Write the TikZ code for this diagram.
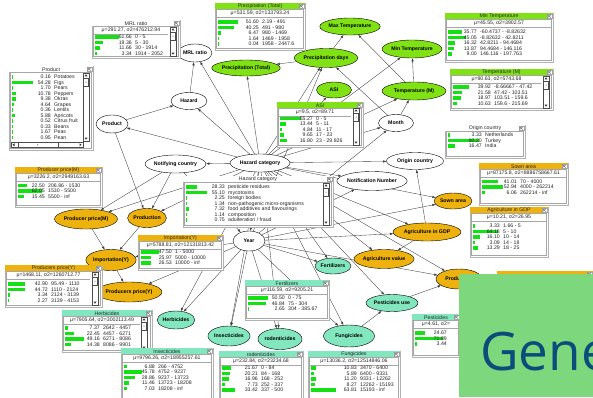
\documentclass[tikz,border=0pt]{standalone}
\usepackage{fontspec}
\setmainfont{Liberation Sans}
\newfontfamily\slidefont{Open Sans}
\usetikzlibrary{shapes.geometric,arrows.meta}

\pgfdeclarelayer{edges}
\pgfdeclarelayer{tables}
\pgfdeclarelayer{slide}
\pgfsetlayers{edges,main,tables,slide}

\definecolor{limeN}{RGB}{128,226,20}
\definecolor{orangeN}{RGB}{238,178,14}
\definecolor{mintN}{RGB}{130,230,190}
\definecolor{barG}{RGB}{20,225,20}
\definecolor{edgeC}{RGB}{60,60,60}
\definecolor{slideG}{RGB}{125,216,125}
\definecolor{slideT}{RGB}{12,76,122}

\tikzset{
  netnode/.style={ellipse, draw=black, line width=0.4pt, inner sep=0pt, fill=white,
    font=\fontsize{5.2}{6}\selectfont\bfseries},
  wnode/.style={netnode},
  gnode/.style={netnode, fill=limeN},
  onode/.style={netnode, fill=orangeN},
  mnode/.style={netnode, fill=mintN},
  link/.style={draw=edgeC, line width=0.35pt, -{Latex[length=3.2pt,width=2.4pt]}},
  tabframe/.style={rectangle, draw=gray!60, fill=white, line width=0.4pt, inner sep=0pt, outer sep=0pt},
  tabtxt/.style={font=\fontsize{5.2}{6}\selectfont, inner sep=0pt, text=black!85},
  innerbox/.style={draw=gray!70, line width=0.35pt},
  sepline/.style={draw=gray!70, line width=0.3pt},
  scrollbar/.style={draw=black!70, line width=0.35pt, fill=white},
}

% monitor window: name, x, y, width, height, header colour, title
\newcommand\bntab[7]{%
  \node[tabframe, minimum width=#4pt, minimum height=#5pt, anchor=north west] (#1) at (#2,#3) {};
  \fill[#6] (#2+0.3,#3+0.3) rectangle (#2+#4-0.3,#3+6);
  \node[tabtxt] (#1-t) at (#2+#4/2,#3+3.3) {#7};
  \draw[gray!70, fill=white, line width=0.3pt] (#2+#4-6.3,#3+0.8) rectangle (#2+#4-1.2,#3+5.5);
  \draw[black!70, line width=0.35pt] (#2+#4-5.4,#3+1.7) -- (#2+#4-2.1,#3+4.6)
    (#2+#4-5.4,#3+4.6) -- (#2+#4-2.1,#3+1.7);
  \draw[innerbox] (#2+1.6,#3+6.6) rectangle (#2+#4-1.6,#3+#5-1.6);
}
% mean / variance line: name, x, y, width of text area, text
\newcommand\bnstat[5]{%
  \node[tabtxt] (#1-s) at (#2+#4/2,#3+10.4) {#5};
  \draw[sepline] (#2+2,#3+13.8) -- (#2+#4-2,#3+13.8);
}
% state rows: name, x, first row centre, number column, list value/label
\newcommand\bnrows[5]{%
  \foreach \rv/\rl [count=\ri] in {#5} {
    \fill[barG] (#2+2.6,#3+\ri*5.5-7.4) rectangle ++(0.8+\rv*0.38,3.8);
    \node[tabtxt, anchor=base east] (#1-v\ri) at (#2+#4,#3+\ri*5.5-3.8) {\rv};
    \node[tabtxt, anchor=base west] (#1-l\ri) at (#2+#4+3,#3+\ri*5.5-3.8) {\rl};
  }
}
% vertical scroll bar: x, top, bottom
\newcommand\bnscroll[3]{%
  \draw[scrollbar] (#1,#2) rectangle (#1+6,#3);
  \fill[black!80] (#1+3,#2+1.3) -- (#1+1.5,#2+3.3) -- (#1+4.5,#2+3.3) -- cycle;
  \fill[black!80] (#1+3,#3-1.3) -- (#1+1.5,#3-3.3) -- (#1+4.5,#3-3.3) -- cycle;
  \draw[scrollbar] (#1+0.6,#2+5) rectangle (#1+5.4,#2+13);
  \fill[black!80] (#1+3,#2+9) circle (0.5pt);
}

\begin{document}
\begin{tikzpicture}[x=1pt,y=-1pt]
\useasboundingbox (0,0) rectangle (593,397);
\clip (0,0) rectangle (593,397);
\begin{pgfonlayer}{edges}
  \fill[white] (0,0) rectangle (593,397);
\end{pgfonlayer}

% ---------- network nodes ----------
\node[wnode, minimum width=32pt, minimum height=18pt] (mrl) at (195,53) {MRL ratio};
\node[wnode, minimum width=36pt, minimum height=17pt] (hazard) at (189,101) {Hazard};
\node[wnode, minimum width=32pt, minimum height=18pt] (product) at (112,124) {Product};
\node[wnode, minimum width=50pt, minimum height=18pt] (notifying) at (175.5,164) {Notifying country};
\node[wnode, minimum width=60pt, minimum height=18pt] (hazcat) at (260,163) {Hazard category};
\node[wnode, minimum width=57pt, minimum height=17pt] (origin) at (415,161) {Origin country};
\node[wnode, minimum width=58pt, minimum height=19pt] (notifnum) at (372,181) {Notification Number};
\node[wnode, minimum width=35pt, minimum height=17pt] (month) at (396,123) {Month};
\node[wnode, minimum width=32pt, minimum height=20pt] (year) at (249,241) {Year};

\node[gnode, minimum width=50pt, minimum height=17pt] (maxtemp) at (350,26.5) {Max Temperature};
\node[gnode, minimum width=60pt, minimum height=18pt] (mintemp) at (412,49) {Min Temperature};
\node[gnode, minimum width=50pt, minimum height=19pt] (precipdays) at (326,58) {Precipitation days};
\node[gnode, minimum width=47pt, minimum height=16pt] (preciptot) at (246,68) {Precipitation (Total)};
\node[gnode, minimum width=35pt, minimum height=16pt] (asi) at (334,90) {ASI};
\node[gnode, minimum width=64pt, minimum height=18pt] (tempm) at (414,91) {Temperature (M)};

\node[onode, minimum width=58pt, minimum height=20pt] (ppm) at (86,219) {Producer price(M)};
\node[onode, minimum width=37pt, minimum height=19pt] (production) at (147,218) {Production};
\node[onode, minimum width=50pt, minimum height=21pt] (importY) at (111,260) {Importation(Y)};
\node[onode, minimum width=55pt, minimum height=20pt] (ppy) at (129,292) {Producers price(Y)};
\node[onode, minimum width=38pt, minimum height=16pt] (sown) at (453,201) {Sown area};
\node[onode, minimum width=68pt, minimum height=18pt] (agrigdp) at (427,232) {Agriculture in GDP};
\node[onode, minimum width=52pt, minimum height=19pt] (agrival) at (384,259) {Agriculture value};
\node[onode, minimum width=46pt, minimum height=20pt] (production2) at (459,279) {Production};

\node[mnode, minimum width=36pt, minimum height=16pt] (fert) at (333,266) {Fertilizers};
\node[mnode, minimum width=52pt, minimum height=17pt] (pestuse) at (392,303) {Pesticides use};
\node[mnode, minimum width=51pt, minimum height=22pt] (fung) at (349,336) {Fungicides};
\node[mnode, minimum width=44pt, minimum height=21pt] (rodent) at (280,339) {rodenticides};
\node[mnode, minimum width=36pt, minimum height=20pt] (insect) at (229,336) {Insecticides};
\node[mnode, minimum width=30pt, minimum height=18pt] (herb) at (176,320) {Herbicides};

% ---------- dependencies ----------
\begin{pgfonlayer}{edges}
\foreach \a/\b in {product/hazard, hazard/mrl, hazcat/hazard, hazcat/mrl, hazcat/product,
  hazcat/notifying, hazcat/origin, hazcat/notifnum, hazcat/preciptot, hazcat/precipdays,
  year/precipdays, precipdays/preciptot, precipdays/maxtemp, month/precipdays,
  tempm/mintemp, tempm/maxtemp, hazcat/month, year/month, month/tempm, hazcat/tempm,
  hazcat/mintemp, hazcat/asi, product/production, notifying/production, hazcat/production,
  hazcat/ppm, notifying/ppm, production/importY, ppm/importY, importY/ppy, year/ppy,
  year/herb, hazcat/herb, year/insect, hazcat/insect, year/rodent, hazcat/rodent,
  year/fung, hazcat/fung, year/fert, hazcat/fert, fung/pestuse, hazcat/pestuse,
  pestuse/production2, hazcat/production2, year/production2, hazcat/sown, year/sown,
  year/agrigdp, hazcat/agrigdp, agrigdp/origin, agrigdp/agrival, hazcat/agrival,
  year/notifnum, hazcat/year, notifying/year, year/importY}
  \draw[link] (\a) -- (\b);
\end{pgfonlayer}

% ---------- monitor windows ----------
\begin{pgfonlayer}{tables}
% MRL ratio
\bntab{tMRL}{92}{20}{88}{38}{white}{MRL ratio}
\bnstat{tMRL}{92}{20}{78}{μ=291.27, σ2=476212.94}
\bnrows{tMRL}{92}{37}{40}{61.66/0 - 5, 19.36/5 - 30, 11.66/30 - 1914, 3.34/1914 - 2052}
\bnscroll{170}{27}{56}

% Product
\bntab{tProd}{9}{66}{84}{84}{white}{Product}
\begin{scope}
  \clip (10,73) rectangle (83,141);
  \bnrows{tProd}{9}{77}{42}{0.16/Potatoes, 54.28/Figs, 1.70/Pears, 10.78/Peppers, 9.38/Okras,
    4.64/Grapes, 0.36/Lentils, 5.88/Apricots, 0.52/Citrus fruit, 0.33/Beans, 1.67/Peas, 0.95/Pean}
\end{scope}
\bnscroll{83}{73}{141}
\draw[scrollbar] (11,142) rectangle (83,147.5);
\draw[scrollbar] (18,142.6) rectangle (58,147);
\fill[black!80] (37.5,144.8) circle (0.5pt);
\fill[black!80] (12.5,144.8) -- (14.5,143.3) -- (14.5,146.3) -- cycle;
\fill[black!80] (81.5,144.8) -- (79.5,143.3) -- (79.5,146.3) -- cycle;

% Precipitation (Total)
\bntab{tPT}{215}{3}{90}{47}{limeN}{Precipitation (Total)}
\bnstat{tPT}{215}{3}{90}{μ=531.59, σ2=133793.24}
\bnrows{tPT}{215}{22}{44}{51.60/2.19 - 491, 40.25/491 - 980, 6.47/980 - 1469, 1.64/1469 - 1958, 0.04/1958 - 2447.6}

% ASI
\bntab{tASI}{277}{102}{86}{45}{limeN}{ASI}
\bnstat{tASI}{277}{102}{76}{μ=9.5, σ2=89.71}
\bnrows{tASI}{277}{118.5}{36}{55.27/0 - 5, 13.44/5 - 11, 4.84/11 - 17, 9.65/17 - 23, 16.80/23 - 29.826}
\bnscroll{353}{108}{145}

% Min Temperature
\bntab{tMin}{445}{13}{108}{49}{limeN}{Min Temperature}
\bnstat{tMin}{445}{13}{108}{μ=45.55, σ2=3902.57}
\bnrows{tMin}{445}{32}{32}{35.77/-60.4737 - -8.82632, 45.05/-8.82632 - 42.8211, 16.32/42.8211 - 94.4684,
  13.87/94.4684 - 146.116, 9.00/146.116 - 197.763}

% Temperature (M)
\bntab{tTM}{450}{69}{103}{41}{limeN}{Temperature (M)}
\bnstat{tTM}{450}{69}{93}{μ=90.63, σ2=5743.68}
\bnrows{tTM}{450}{87}{41}{39.92/-8.66667 - 47.42, 21.58/47.42 - 103.51, 18.97/103.51 - 159.6, 10.63/159.6 - 215.69}
\bnscroll{543}{76}{108}

% Origin country
\bntab{tOrig}{445}{125}{80}{33}{white}{Origin country}
\bnrows{tOrig}{445}{135}{37}{3.33/Netherlands, 80.20/Turkey, 16.47/India}

% Sown area
\bntab{tSown}{479}{163}{89}{42}{orangeN}{Sown area}
\bnstat{tSown}{479}{163}{89}{μ=87175.8, σ2=8886758667.61}
\bnrows{tSown}{479}{181.5}{38}{41.01/70 - 4000, 52.94/4000 - 262214, 6.06/262214 - inf}

% Agriculture in GDP
\bntab{tGDP}{470}{207}{78}{50}{orangeN}{Agriculture in GDP}
\bnstat{tGDP}{470}{207}{78}{μ=10.21, σ2=26.95}
\bnrows{tGDP}{470}{226}{30}{3.33/1.66 - 5, 64.18/5 - 10, 16.10/10 - 14, 3.09/14 - 18, 13.29/18 - 25}

% Hazard category
\bntab{tHaz}{183}{176}{150}{51}{white}{Hazard category}
\bnrows{tHaz}{183}{187}{42}{28.33/pesticide residues, 55.10/mycotoxins, 2.25/foreign bodies,
  1.34/non-pathogenic micro-organisms, 7.32/food additives and flavourings, 1.14/composition,
  0.75/{adulteration / fraud}}
\bnscroll{323}{183}{225}

% Producer price(M)
\bntab{tPPM}{15}{167}{87}{40}{orangeN}{Producer price(M)}
\bnstat{tPPM}{15}{167}{87}{μ=3226.2, σ2=2949163.63}
\bnrows{tPPM}{15}{185.5}{30}{22.50/206.86 - 1530, 62.05/1530 - 5500, 15.45/5500 - inf}

% Importation(Y)
\bntab{tImp}{138}{235}{85}{35}{orangeN}{Importation(Y)}
\bnstat{tImp}{138}{235}{85}{μ=5788.81, σ2=12131813.42}
\bnrows{tImp}{138}{252}{34}{47.50/1 - 5000, 25.97/5000 - 10000, 26.53/10000 - inf}

% Producers price(Y)
\bntab{tPPY}{5}{265}{97}{42}{orangeN}{Producers price(Y)}
\bnstat{tPPY}{5}{265}{87}{μ=1468.11, σ2=1260712.77}
\bnrows{tPPY}{5}{284}{43}{42.90/95.49 - 1110, 44.72/1110 - 2124, 3.34/2124 - 3139, 2.27/3139 - 4153}
\bnscroll{92}{272}{305}

% Herbicides
\bntab{tHerb}{62}{310}{90}{42}{mintN}{Herbicides}
\bnstat{tHerb}{62}{310}{80}{μ=7905.64, σ2=3002113.49}
\bnrows{tHerb}{62}{328}{38}{7.37/2642 - 4457, 22.45/4457 - 6271, 49.16/6271 - 8086, 14.38/8086 - 9901}
\bnscroll{141}{317}{350}

% Insecticides
\bntab{tIns}{121}{348}{92}{52}{mintN}{Insecticides}
\bnstat{tIns}{121}{348}{92}{μ=9796.26, σ2=18955257.61}
\bnrows{tIns}{121}{366.5}{34}{6.88/266 - 4752, 45.78/4752 - 9237, 28.86/9237 - 13723, 11.46/13723 - 18208, 7.03/18208 - inf}

% Fertilizers
\bntab{tFert}{245}{280}{84}{40}{mintN}{Fertilizers}
\bnstat{tFert}{245}{280}{84}{μ=116.59, σ2=9205.21}
\bnrows{tFert}{245}{298}{40}{50.50/0 - 75, 46.84/75 - 304, 2.65/304 - 385.67}

% rodenticides
\bntab{tRod}{219}{351}{84}{50}{mintN}{rodenticides}
\bnstat{tRod}{219}{351}{84}{μ=232.84, σ2=23234.68}
\bnrows{tRod}{219}{368}{39}{21.67/0 - 84, 20.21/84 - 168, 16.96/168 - 252, 7.73/252 - 337, 33.42/337 - 500}

% Fungicides
\bntab{tFung}{308}{351}{92}{50}{mintN}{Fungicides}
\bnstat{tFung}{308}{351}{92}{μ=13036.2, σ2=12514846.06}
\bnrows{tFung}{308}{368}{49}{10.83/3470 - 6400, 5.89/6400 - 9331, 11.20/9331 - 12262, 8.27/12262 - 15193, 63.81/15193 - inf}

% Pesticides
\bntab{tPest}{412}{314}{48}{43}{mintN}{Pesticides}
\bnstat{tPest}{412}{314}{48}{μ=4.61, σ2=}
\bnrows{tPest}{412}{333}{35}{24.67/{}, 71.89/{}, 3.44/{}}

% Production (right)
\bntab{tProd2}{497}{271}{96}{60}{orangeN}{}
\end{pgfonlayer}

% ---------- title slide overlay ----------
\begin{pgfonlayer}{slide}
  \fill[slideG] (459,274) rectangle (593,397);
  \node[anchor=base west, inner sep=0pt, text=slideT, font=\slidefont\fontsize{53}{60}\selectfont]
    (slidetitle) at (480,370) {Gene};
\end{pgfonlayer}
\end{tikzpicture}
\end{document}
